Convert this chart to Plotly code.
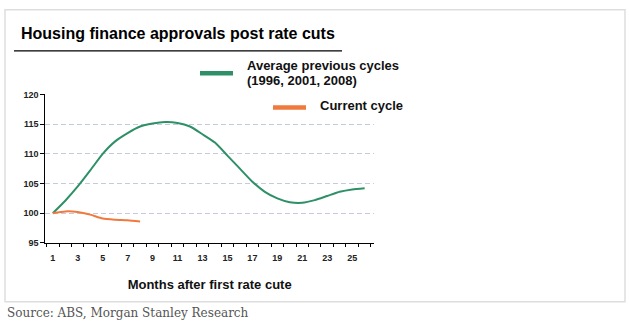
import plotly.graph_objects as go

# Months after the first rate cut
months_prev = list(range(1, 27))
months_curr = list(range(1, 9))

# Housing finance approvals index (month 1 = 100)
avg_previous = [100.0, 102.1, 104.5, 107.2, 110.0, 112.1, 113.5, 114.6, 115.1, 115.35,
                115.2, 114.6, 113.3, 111.9, 109.7, 107.5, 105.3, 103.6, 102.5, 101.85,
                101.75, 102.2, 102.9, 103.6, 104.0, 104.2]
current_cycle = [100.0, 100.3, 100.2, 99.75, 99.1, 98.9, 98.8, 98.6]

x_tick_vals = list(range(1, 26, 2))
x_tick_text = ["<b>%d</b>" % v for v in x_tick_vals]
y_tick_vals = [95, 100, 105, 110, 115, 120]
y_tick_text = ["<b>%d</b>" % v for v in y_tick_vals]

GREEN = "#2e9067"
ORANGE = "#f07a3e"
W, H = 629, 329

def px(x):
    return x / W

def py(y):
    return 1 - y / H

fig = go.Figure()
fig.add_trace(go.Scatter(x=months_prev, y=avg_previous, mode="lines",
                         line=dict(color=GREEN, width=2, shape="spline", smoothing=0.6),
                         showlegend=False, hoverinfo="skip"))
fig.add_trace(go.Scatter(x=months_curr, y=current_cycle, mode="lines",
                         line=dict(color=ORANGE, width=2, shape="spline", smoothing=0.6),
                         showlegend=False, hoverinfo="skip"))

fig.update_layout(
    width=W, height=H, autosize=False,
    margin=dict(l=0, r=0, t=0, b=0),
    paper_bgcolor="white", plot_bgcolor="white",
    font=dict(family="Arial, Liberation Sans, sans-serif", color="#111"),
    xaxis=dict(
        domain=[px(45.3), px(374)], range=[0.4, 26.75],
        tickmode="array", tickvals=x_tick_vals, ticktext=x_tick_text,
        ticks="", showgrid=False, zeroline=False,
        showline=True, linecolor="black", linewidth=1,
        tickfont=dict(size=9, color="#222"), ticklabelstandoff=6,
        minor=dict(tickmode="array", tickvals=[v + 0.5 for v in range(0, 27)],
                   ticks="outside", ticklen=3, tickcolor="black", showgrid=False),
        title=dict(text="<b>Months after first rate cute</b>",
                   font=dict(size=13, color="#111"), standoff=18),
    ),
    yaxis=dict(
        domain=[py(245.3), py(92.3)], range=[95, 120],
        tickmode="array", tickvals=y_tick_vals, ticktext=y_tick_text,
        ticks="outside", ticklen=4, tickcolor="black",
        showline=True, linecolor="black", linewidth=1,
        showgrid=True, gridcolor="#c6cade", griddash="5px,3px", gridwidth=1,
        zeroline=False, tickfont=dict(size=9, color="#222"),
    ),
)

shapes = [
    # outer frame
    dict(type="rect", xref="paper", yref="paper", x0=px(5), x1=px(625), y0=py(306), y1=py(5),
         line=dict(color="#dedede", width=1.5), layer="above"),
    # title underline
    dict(type="line", xref="paper", yref="paper", x0=px(14), x1=px(342), y0=py(47.3), y1=py(47.3),
         line=dict(color="black", width=1.2)),
    # legend background
    dict(type="rect", xref="paper", yref="paper", x0=px(190), x1=px(405), y0=py(117), y1=py(52),
         fillcolor="white", line=dict(width=0), layer="above"),
    # legend swatches
    dict(type="line", xref="paper", yref="paper", x0=px(200), x1=px(233), y0=py(70.5), y1=py(70.5),
         line=dict(color=GREEN, width=4.5), layer="above"),
    dict(type="line", xref="paper", yref="paper", x0=px(273), x1=px(306), y0=py(105.8), y1=py(105.8),
         line=dict(color=ORANGE, width=4.5), layer="above"),
]
fig.update_layout(shapes=shapes)

annotations = [
    dict(text="<b>Housing finance approvals post rate cuts</b>", xref="paper", yref="paper",
         x=px(19), y=py(29.5), xanchor="left", yanchor="middle", showarrow=False,
         font=dict(size=16, color="black")),
    dict(text="<b>Average previous cycles</b>", xref="paper", yref="paper",
         x=px(245), y=py(62), xanchor="left", yanchor="middle", showarrow=False,
         font=dict(size=13, color="#111")),
    dict(text="<b>(1996, 2001, 2008)</b>", xref="paper", yref="paper",
         x=px(245), y=py(77.5), xanchor="left", yanchor="middle", showarrow=False,
         font=dict(size=13, color="#111")),
    dict(text="<b>Current cycle</b>", xref="paper", yref="paper",
         x=px(318), y=py(104), xanchor="left", yanchor="middle", showarrow=False,
         font=dict(size=13, color="#111")),
    dict(text="Source: ABS, Morgan Stanley Research", xref="paper", yref="paper",
         x=px(5), y=py(317.5), xanchor="left", yanchor="middle", showarrow=False,
         font=dict(size=12, color="#555", family="DejaVu Serif, Liberation Serif, serif")),
]
fig.update_layout(annotations=annotations)

fig.write_html("out.html")
